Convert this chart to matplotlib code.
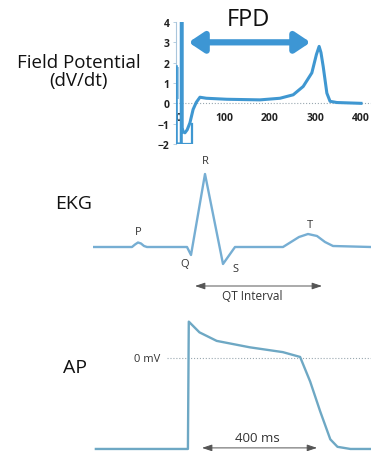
import matplotlib
matplotlib.use("Agg")
import matplotlib.pyplot as plt

plt.rcParams['font.family'] = ['Open Sans', 'DejaVu Sans']
plt.rcParams['axes.unicode_minus'] = True

W, H = 371, 452

# ---- data ----
# Field potential (dV/dt) vs time (ms)
fp_t = [-6, -6, 5, 5, 7, 7, 9, 13, 18, 24, 31, 38, 46, 60, 105, 178, 222, 251, 273, 292, 302, 308, 312, 317, 325, 332, 347, 400]
fp_v = [1.8, -2, -2, 4, 4, -1.2, -1.4, -1.45, -1.3, -0.96, -0.3, 0.05, 0.3, 0.25, 0.2, 0.17, 0.25, 0.42, 0.83, 1.5, 2.4, 2.8, 2.5, 1.8, 0.5, 0.1, 0.04, 0.0]
fp_box_t = [5, 29, 29]
fp_box_v = [-2, -2, -1.0]
fp_xticks = [0, 100, 200, 300, 400]
fp_yticks = [-2, -1, 0, 1, 2, 3, 4]
fpd_range = [21, 289]
fpd_level = 3

# EKG (time units, mV)
ekg_t = [0, 39, 42, 45, 48, 51, 54, 94, 98, 112, 130, 142, 190, 198, 206, 215, 224, 232, 240, 278]
ekg_v = [0, 0, 0.05, 0.09, 0.07, 0.02, 0, 0, -0.16, 1.46, -0.34, 0, 0, 0.1, 0.2, 0.26, 0.22, 0.1, 0.02, 0]
ekg_labels = ['P', 'Q', 'R', 'S', 'T']
ekg_label_t = [45, 92, 112, 142, 217]
ekg_label_v = [0.3, -0.34, 1.72, -0.44, 0.44]
qt_range = [102, 229]

# Action potential (ms, mV)
ap_t = [-320, 0, 3, 40, 100, 215, 330, 390, 425, 460, 495, 520, 565, 640]
ap_v = [-85, -85, 34, 24, 16, 10, 5.5, 1, -22, -50, -76, -83, -85, -85]
ap_range = [49, 449]

fig = plt.figure(figsize=(W / 100, H / 100), dpi=100)
fig.patch.set_facecolor('white')


def px_axes(l, t, r, b):
    return fig.add_axes([l / W, 1 - b / H, (r - l) / W, (b - t) / H])


def fmt(v):
    return str(v).replace('-', '\u2212')


# ---- Field potential panel ----
ax1 = px_axes(176, 23, 371, 145)
ax1.set_xlim(-6.6, 422)
ax1.set_ylim(-2, 4)
ax1.axhline(0, color='#9aa8b0', lw=0.8, ls=':', zorder=1)
ax1.fill_between([-6, -1], [0.2, 0.2], [1.8, 1.8], color='#9cc8e6', lw=0, zorder=2)
ax1.plot(fp_t, fp_v, color='#3f97d1', lw=2.2, zorder=3, solid_joinstyle='round')
ax1.plot(fp_box_t, fp_box_v, color='#3f97d1', lw=1.6, zorder=3)
ax1.annotate('', xy=(fpd_range[0], fpd_level), xytext=(fpd_range[1], fpd_level),
             arrowprops=dict(arrowstyle='<|-|>,head_length=0.9,head_width=0.6',
                             color='#3d96d4', lw=4.5, mutation_scale=10,
                             shrinkA=0, shrinkB=0), zorder=4)
for s in ['top', 'right', 'bottom']:
    ax1.spines[s].set_visible(False)
ax1.spines['left'].set_color('#a9c6dc')
ax1.spines['left'].set_linewidth(0.8)
ax1.set_yticks(fp_yticks)
ax1.set_yticklabels([fmt(v) for v in fp_yticks])
ax1.set_xticks(fp_xticks)
ax1.set_xticklabels([fmt(v) for v in fp_xticks])
ax1.tick_params(axis='y', length=2.5, width=0.6, color='#a9c6dc', pad=2,
                labelsize=7.5, labelcolor='#222222')
ax1.tick_params(axis='x', length=0, pad=6, labelsize=7.5, labelcolor='#222222')
ax1.spines['bottom'].set_position(('data', 0))
for lab in ax1.get_xticklabels() + ax1.get_yticklabels():
    lab.set_fontweight('bold')
ax1.patch.set_alpha(0)

fig.text(248 / W, 1 - 20.5 / H, 'FPD', ha='center', va='center', fontsize=17, color='#111111')
fig.text(78.5 / W, 1 - 72 / H, 'Field Potential\n(dV/dt)', ha='center', va='center',
         fontsize=13.5, color='#111111', linespacing=1.0)

# ---- EKG panel ----
ax2 = px_axes(93, 150, 371, 310)
ax2.set_xlim(0, 278)
ax2.set_ylim(-1.24, 1.96)
ax2.axis('off')
ax2.plot(ekg_t, ekg_v, color='#76aed3', lw=1.7, solid_joinstyle='round')
for lab, tt, vv in zip(ekg_labels, ekg_label_t, ekg_label_v):
    ax2.text(tt, vv, lab, ha='center', va='center', fontsize=8, color='#333333')
ax2.annotate('', xy=(qt_range[0], -0.78), xytext=(qt_range[1], -0.78),
             arrowprops=dict(arrowstyle='<|-|>,head_length=0.6,head_width=0.2',
                             color='#555555', lw=0.7, shrinkA=0, shrinkB=0))
ax2.text((qt_range[0] + qt_range[1]) / 2 - 6, -0.98, 'QT Interval', ha='center', va='center',
         fontsize=8.5, color='#333333')
fig.text(74 / W, 1 - 204 / H, 'EKG', ha='center', va='center', fontsize=14, color='#111111')

# ---- AP panel ----
ax3 = px_axes(93, 310, 371, 452)
ax3.set_xlim(-330, 636.5)
ax3.set_ylim(-86.9, 45.8)
ax3.axis('off')
ax3.plot([-73, 640], [0, 0], color='#9aa8b0', lw=0.8, ls=':')
ax3.plot(ap_t, ap_v, color='#6ea8c4', lw=1.7, solid_joinstyle='round')
ax3.text(-143, 0, '0 mV', ha='center', va='center', fontsize=8, color='#333333')
ax3.annotate('', xy=(ap_range[0], -84), xytext=(ap_range[1], -84),
             arrowprops=dict(arrowstyle='<|-|>,head_length=0.6,head_width=0.2',
                             color='#555555', lw=0.7, shrinkA=0, shrinkB=0))
ax3.text(243, -74, '400 ms', ha='center', va='center', fontsize=9.5, color='#333333')
fig.text(75 / W, 1 - 368 / H, 'AP', ha='center', va='center', fontsize=14, color='#111111')

fig.savefig('out.png', dpi=100, facecolor='white')
